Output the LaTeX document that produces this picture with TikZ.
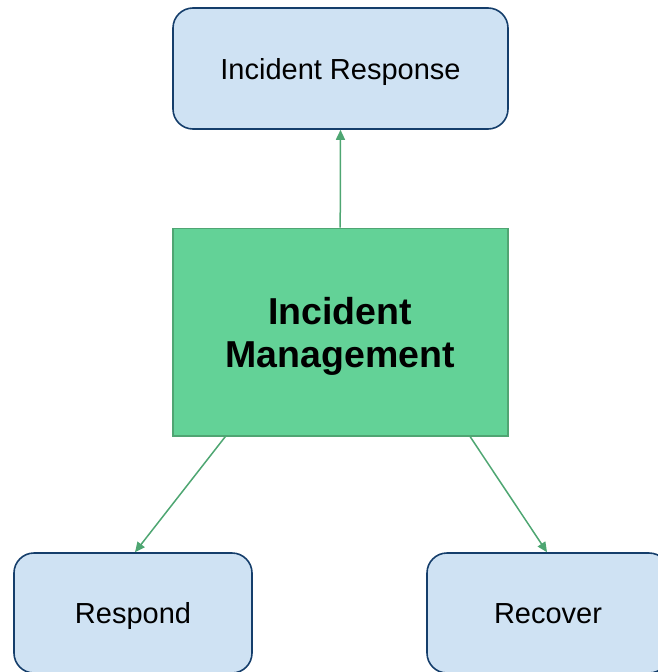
\documentclass[tikz,border=0pt]{standalone}
\usepackage{fontspec}
\setmainfont{Liberation Sans}
\usetikzlibrary{arrows.meta}
\definecolor{bluefill}{HTML}{CFE2F3}
\definecolor{blueline}{HTML}{153E6B}
\definecolor{greenfill}{HTML}{63D297}
\definecolor{greenline}{HTML}{50A573}
\definecolor{arrowcol}{HTML}{4EA672}
\tikzset{
  bluebox/.style={draw=blueline, fill=bluefill, line width=1.6pt, rounded corners=20pt,
    inner sep=0pt, text height=21pt, text depth=0pt, font=\fontsize{29}{34}\selectfont, text=black},
  greenbox/.style={draw=greenline, fill=greenfill, line width=1.6pt, inner sep=0pt},
  greentext/.style={inner sep=0pt, align=center, font=\fontsize{37.5}{43}\selectfont\bfseries, text=black},
  arr/.style={draw=arrowcol, line width=1.5pt, -{Triangle[length=10pt,width=9pt]}}
}
\begin{document}
\begin{tikzpicture}[x=1pt,y=-1pt]
\useasboundingbox (0,0) rectangle (658,672);
\clip (0,0) rectangle (658,672);
\node[bluebox, minimum width=335pt, minimum height=121pt] (resp) at (340.5,68.5) {Incident Response};
\node[greenbox, minimum width=335pt, minimum height=207.5pt] (mgmt) at (340.2,332.2) {};
\node[greentext] (mgmttext) at (340.2,336.5) {Incident\\Management};
\node[bluebox, minimum width=238pt, minimum height=120pt] (respond) at (133,613) {Respond};
\node[bluebox, minimum width=242pt, minimum height=120pt] (recover) at (548,613) {Recover};
\draw[arr] (mgmt.north) -- (resp.south);
\draw[arr] ([xshift=-115pt]mgmt.south) -- ([xshift=2pt]respond.north);
\draw[arr] ([xshift=130pt]mgmt.south) -- ([xshift=-1pt]recover.north);
\end{tikzpicture}
\end{document}
